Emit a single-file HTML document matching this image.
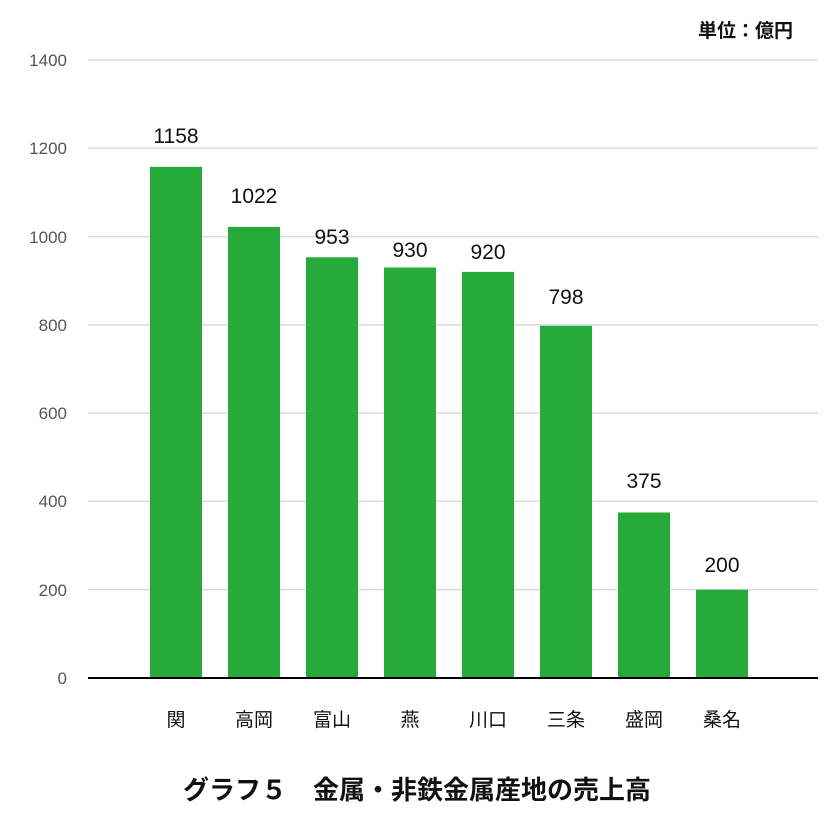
<!DOCTYPE html>
<html><head><meta charset="utf-8"><style>
body{margin:0;background:#fff;}
svg text{font-family:"Liberation Sans","Noto Sans CJK JP",sans-serif;}
</style></head><body>
<svg width="834" height="834" viewBox="0 0 834 834" xmlns="http://www.w3.org/2000/svg">
<rect width="834" height="834" fill="#fff"/>
<text x="793" y="37" text-anchor="end" font-size="19" font-weight="bold" fill="#111">単位：億円</text>
<g stroke="#d9d9d9" stroke-width="1.5">
<line x1="88" y1="60" x2="818" y2="60"/>
<line x1="88" y1="148.3" x2="818" y2="148.3"/>
<line x1="88" y1="236.6" x2="818" y2="236.6"/>
<line x1="88" y1="324.9" x2="818" y2="324.9"/>
<line x1="88" y1="413.1" x2="818" y2="413.1"/>
<line x1="88" y1="501.4" x2="818" y2="501.4"/>
<line x1="88" y1="589.7" x2="818" y2="589.7"/>
</g>
<g font-size="17" fill="#555" text-anchor="end">
<text x="67" y="66">1400</text>
<text x="67" y="154">1200</text>
<text x="67" y="243">1000</text>
<text x="67" y="331">800</text>
<text x="67" y="419">600</text>
<text x="67" y="507">400</text>
<text x="67" y="596">200</text>
<text x="67" y="684">0</text>
</g>
<g fill="#26ab3a">
<rect x="150" y="166.9" width="52" height="511.1"/>
<rect x="228" y="226.9" width="52" height="451.1"/>
<rect x="306" y="257.3" width="52" height="420.7"/>
<rect x="384" y="267.5" width="52" height="410.5"/>
<rect x="462" y="271.9" width="52" height="406.1"/>
<rect x="540" y="325.8" width="52" height="352.2"/>
<rect x="618" y="512.5" width="52" height="165.5"/>
<rect x="696" y="589.7" width="52" height="88.3"/>
</g>
<line x1="88" y1="678" x2="818" y2="678" stroke="#000" stroke-width="2"/>
<g font-size="21" fill="#111" text-anchor="middle">
<text x="176" y="143">1158</text>
<text x="254" y="203">1022</text>
<text x="332" y="244">953</text>
<text x="410" y="257">930</text>
<text x="488" y="259">920</text>
<text x="566" y="304">798</text>
<text x="644" y="488">375</text>
<text x="722" y="572">200</text>
</g>
<g font-size="19" fill="#111" text-anchor="middle">
<text x="176" y="726">関</text>
<text x="254" y="726">高岡</text>
<text x="332" y="726">富山</text>
<text x="410" y="726">燕</text>
<text x="488" y="726">川口</text>
<text x="566" y="726">三条</text>
<text x="644" y="726">盛岡</text>
<text x="722" y="726">桑名</text>
</g>
<text x="417" y="799" text-anchor="middle" font-size="26" font-weight="bold" fill="#111">グラフ５　金属・非鉄金属産地の売上高</text>
</svg>
</body></html>
